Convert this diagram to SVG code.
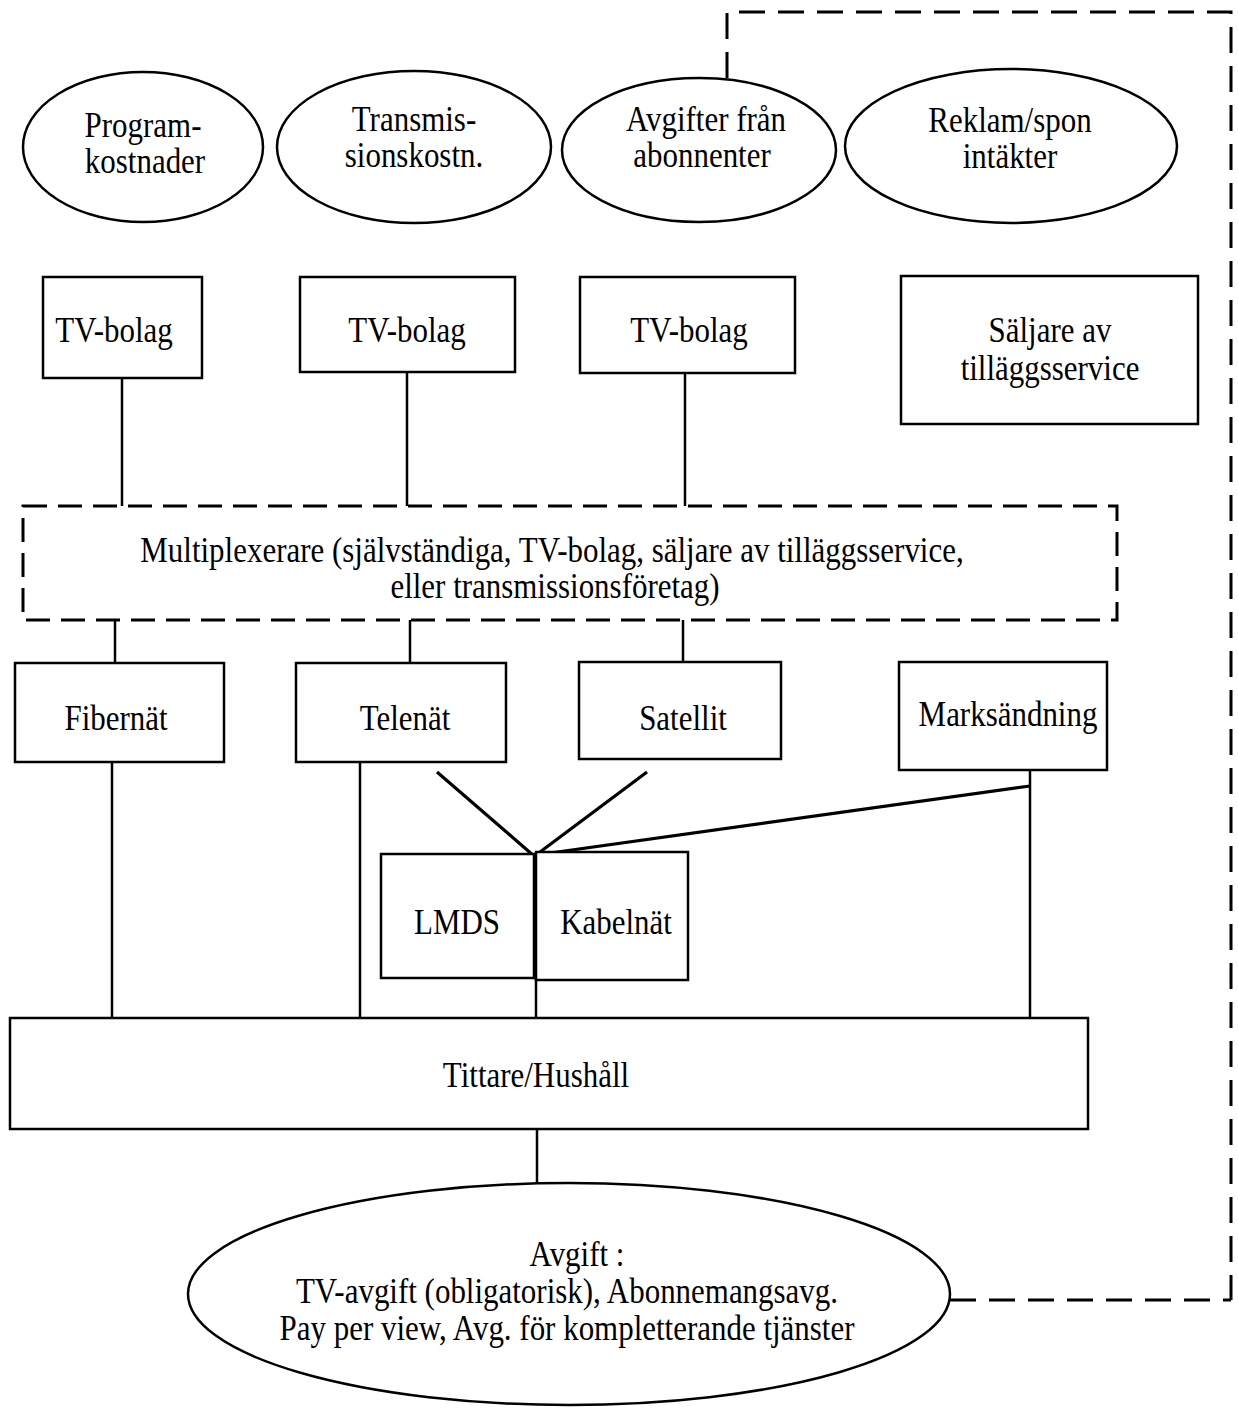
<svg xmlns="http://www.w3.org/2000/svg" width="1238" height="1419" viewBox="0 0 1238 1419">
<style>
.n{fill:#fff;stroke:#000;stroke-width:2.5}
.e{fill:#fff;stroke:#000;stroke-width:2.5}
.d{fill:none;stroke:#000;stroke-width:3;stroke-dasharray:24 11}
.f{fill:none;stroke:#000;stroke-width:3;stroke-dasharray:26 13}
.l{fill:none;stroke:#000;stroke-width:2.5}
.t{stroke:#000;stroke-width:3.2}
text{font-family:"Liberation Serif","Times New Roman",serif;font-size:36px;fill:#000;text-anchor:middle}
</style>
<rect width="1238" height="1419" fill="#fff"/>
<g id="connectors">
<path class="f" d="M727,78 V12 H1231 V1300"/>
<path class="f" d="M950,1300 H1231"/>
<line class="l" x1="122" y1="378" x2="122" y2="506"/>
<line class="l" x1="407" y1="372" x2="407" y2="506"/>
<line class="l" x1="685" y1="373" x2="685" y2="506"/>
<line class="l" x1="115" y1="620" x2="115" y2="663"/>
<line class="l" x1="410" y1="620" x2="410" y2="663"/>
<line class="l" x1="683" y1="620" x2="683" y2="662"/>
<line class="l" x1="112" y1="762" x2="112" y2="1018"/>
<line class="l" x1="360" y1="762" x2="360" y2="1018"/>
<line class="l" x1="1030" y1="770" x2="1030" y2="1018"/>
<line class="t" x1="437" y1="772" x2="534" y2="856"/>
<line class="t" x1="647" y1="772" x2="536" y2="855"/>
<line class="t" x1="1030" y1="786" x2="536" y2="855"/>
<line class="l" x1="537" y1="1129" x2="537" y2="1183"/>
<line class="l" x1="536" y1="856" x2="536" y2="1018"/>
</g>
<g id="programkostnader"><ellipse class="e" cx="143" cy="147" rx="120" ry="75"/><text transform="translate(143 137) scale(.86 1)">Program-</text><text transform="translate(145 173) scale(.86 1)">kostnader</text></g>
<g id="transmissionskostn"><ellipse class="e" cx="414" cy="147" rx="137" ry="76"/><text transform="translate(414 131) scale(.86 1)">Transmis-</text><text transform="translate(414 167) scale(.86 1)">sionskostn.</text></g>
<g id="avgifter"><ellipse class="e" cx="699" cy="150" rx="137" ry="72"/><text transform="translate(706 131) scale(.86 1)">Avgifter från</text><text transform="translate(702 167) scale(.86 1)">abonnenter</text></g>
<g id="reklam"><ellipse class="e" cx="1011" cy="146" rx="166" ry="77"/><text transform="translate(1010 132) scale(.86 1)">Reklam/spon</text><text transform="translate(1010 168) scale(.86 1)">intäkter</text></g>
<g id="tvbolag1"><rect class="n" x="43" y="277" width="159" height="101"/><text transform="translate(114 342) scale(.86 1)">TV-bolag</text></g>
<g id="tvbolag2"><rect class="n" x="300" y="277" width="215" height="95"/><text transform="translate(407 342) scale(.86 1)">TV-bolag</text></g>
<g id="tvbolag3"><rect class="n" x="580" y="277" width="215" height="96"/><text transform="translate(689 342) scale(.86 1)">TV-bolag</text></g>
<g id="saljare"><rect class="n" x="901" y="276" width="297" height="148"/><text transform="translate(1050 342) scale(.86 1)">Säljare av</text><text transform="translate(1050 380) scale(.86 1)">tilläggsservice</text></g>
<g id="multiplexerare"><rect class="d" x="23" y="506" width="1094" height="114"/><text transform="translate(552 562) scale(.86 1)">Multiplexerare (självständiga, TV-bolag, säljare av tilläggsservice,</text><text transform="translate(555 598) scale(.86 1)">eller transmissionsföretag)</text></g>
<g id="fibernat"><rect class="n" x="15" y="663" width="209" height="99"/><text transform="translate(116 730) scale(.86 1)">Fibernät</text></g>
<g id="telenat"><rect class="n" x="296" y="663" width="210" height="99"/><text transform="translate(405 730) scale(.86 1)">Telenät</text></g>
<g id="satellit"><rect class="n" x="579" y="662" width="202" height="97"/><text transform="translate(683 730) scale(.86 1)">Satellit</text></g>
<g id="marksandning"><rect class="n" x="899" y="662" width="208" height="108"/><text transform="translate(1008 726) scale(.86 1)">Marksändning</text></g>
<g id="lmds"><rect class="n" x="381" y="854" width="153" height="124"/><text transform="translate(457 934) scale(.86 1)">LMDS</text></g>
<g id="kabelnat"><rect class="n" x="536" y="852" width="152" height="128"/><text transform="translate(616 934) scale(.86 1)">Kabelnät</text></g>
<g id="tittare"><rect class="n" x="10" y="1018" width="1078" height="111"/><text transform="translate(536 1087) scale(.86 1)">Tittare/Hushåll</text></g>
<g id="avgift"><ellipse class="e" cx="569" cy="1294" rx="381" ry="111"/><text transform="translate(577 1266) scale(.86 1)">Avgift :</text><text transform="translate(567 1303) scale(.86 1)">TV-avgift (obligatorisk), Abonnemangsavg.</text><text transform="translate(567 1340) scale(.86 1)">Pay per view, Avg. för kompletterande tjänster</text></g>
</svg>
